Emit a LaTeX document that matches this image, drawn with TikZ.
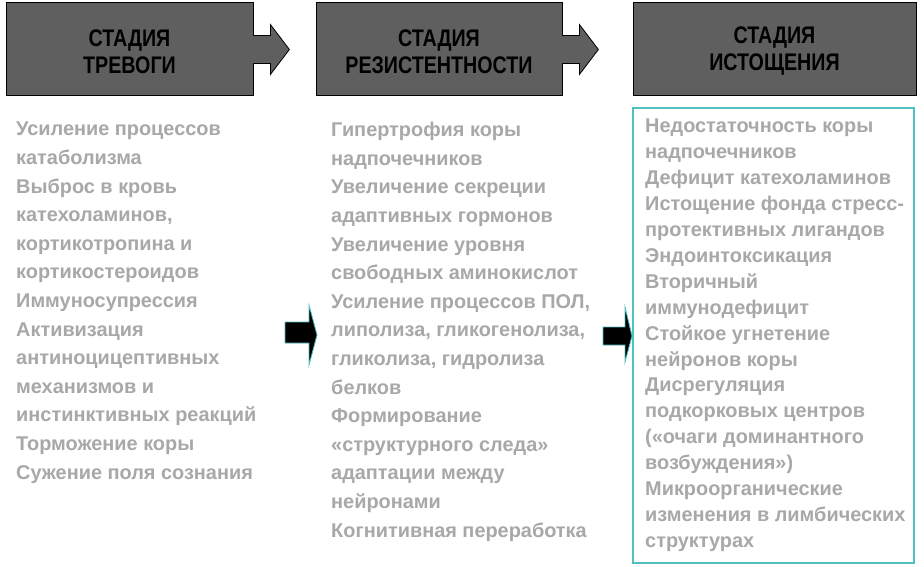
\documentclass[tikz,border=0pt]{standalone}
\usepackage{fontspec}
\setmainfont{Liberation Sans}
\newfontfamily\headfont[FakeStretch=0.82]{Liberation Sans}
\usetikzlibrary{calc}
\usetikzlibrary{positioning}
\definecolor{stagegray}{RGB}{95,95,95}
\definecolor{textgray}{RGB}{168,168,168}
\definecolor{tealline}{RGB}{80,192,192}
\tikzset{
	stage/.style={
		rectangle,
		fill=stagegray,
		draw=black, line width=0.8pt,
		minimum height=93pt,
		inner sep=0pt},
	stagetext/.style={
		align=center,
		inner sep=0pt,
		yshift=-3pt,
		font=\headfont\bfseries\fontsize{24}{27}\selectfont},
	stagearrow/.style={fill=stagegray},
	stageedge/.style={draw=black, line width=0.8pt},
	column/.style={
		anchor=north west,
		inner sep=0pt,
		align=left,
		text=textgray,
		font=\bfseries\fontsize{19.9}{28.6}\selectfont},
	stepto/.style={fill=black, draw=tealline, line width=0.8pt, line join=miter},
	framebox/.style={draw=tealline, line width=1.8pt},
}

\begin{document}
\begin{tikzpicture}[x=1pt,y=-1pt]
	\useasboundingbox[fill=white] (0,0) rectangle (924,566);
	% stages
	\node[stage, minimum width=247pt, label={[stagetext]center:СТАДИЯ\\ТРЕВОГИ}] (trevoga) at (129.5,48.5) {};
	\node[stage, minimum width=246pt, label={[stagetext]center:СТАДИЯ\\РЕЗИСТЕНТНОСТИ}] (rezist) at (439,48.5) {};
	\node[stage, minimum width=283pt, label={[stagetext]center:СТАДИЯ\\ИСТОЩЕНИЯ}] (istosh) at (774.5,48.5) {};
	% arrows on the stage boxes
	\foreach \stg in {trevoga,rezist}{
		\fill[stagearrow] ($(\stg.east)+(-1,-13)$) -- ++(18,0) -- ++(0,-11)
			-- ++(19,25) -- ++(-19,25) -- ++(0,-11) -- ++(-18,0) -- cycle;
		\draw[stageedge] ($(\stg.east)+(0,-13)$) -- ++(17,0) -- ++(0,-11)
			-- ++(19,25) -- ++(-19,25) -- ++(0,-11) -- ++(-17,0);
	}
	% teal frame
	\draw[framebox] (633,108) rectangle (914,563);
	% columns
	\node[column] (col1) at (16,122) {Усиление процессов\\
		катаболизма\\
		Выброс в кровь\\
		катехоламинов,\\
		кортикотропина и\\
		кортикостероидов\\
		Иммуносупрессия\\
		Активизация\\
		антиноцицептивных\\
		механизмов и\\
		инстинктивных реакций\\
		Торможение коры\\
		Сужение поля сознания};
	\node[column] (col2) at (331,122) {Гипертрофия коры\\
		надпочечников\\
		Увеличение секреции\\
		адаптивных гормонов\\
		Увеличение уровня\\
		свободных аминокислот\\
		Усиление процессов ПОЛ,\\
		липолиза, гликогенолиза,\\
		гликолиза, гидролиза\\
		белков\\
		Формирование\\
		«структурного следа»\\
		адаптации между\\
		нейронами\\
		Когнитивная переработка};
	\node[column, font=\bfseries\fontsize{19.9}{25.9}\selectfont] (col3) at (645,119) {Недостаточность коры\\
		надпочечников\\
		Дефицит катехоламинов\\
		Истощение фонда стресс-\\
		протективных лигандов\\
		Эндоинтоксикация\\
		Вторичный\\
		иммунодефицит\\
		Стойкое угнетение\\
		нейронов коры\\
		Дисрегуляция\\
		подкорковых центров\\
		(«очаги доминантного\\
		возбуждения»)\\
		Микроорганические\\
		изменения в лимбических\\
		структурах};
	% arrows between columns
	\coordinate (tip1) at (317,335);
	\coordinate (tip2) at (632,336);
	\draw[stepto] (tip1) -- ++(-8,-30) -- ++(0,17) -- ++(-24,0) -- ++(0,21)
		-- ++(24,0) -- ++(0,22) -- cycle;
	\draw[stepto] (tip2) -- ++(-7,-29) -- ++(0,20) -- ++(-22,0) -- ++(0,18)
		-- ++(22,0) -- ++(0,17) -- cycle;
\end{tikzpicture}
\end{document}
